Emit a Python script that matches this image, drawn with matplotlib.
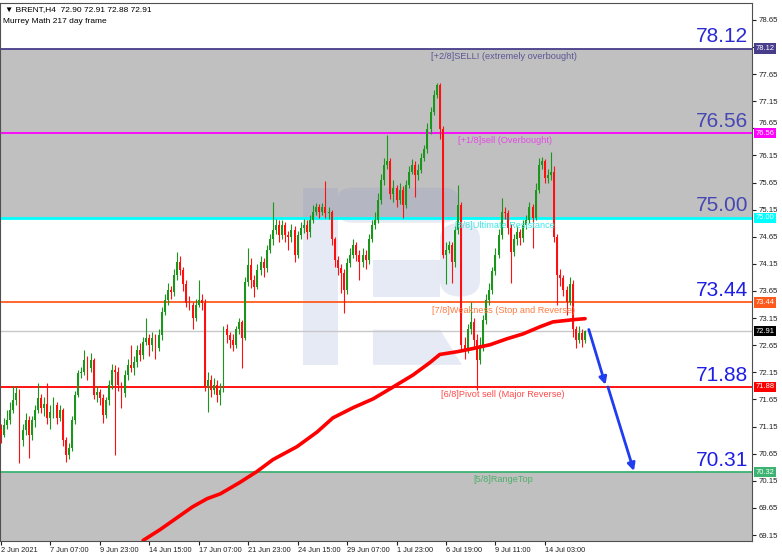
import numpy as np
import matplotlib
matplotlib.use("Agg")
import matplotlib.pyplot as plt
import matplotlib.transforms as mtransforms
from matplotlib.patches import Polygon, FancyBboxPatch

plt.rcParams['font.family'] = ['Liberation Sans', 'DejaVu Sans']

# %% data (H4 bars, bar index 0 = 2 Jun 2021)
first_open = 71.10
closes = [71.00, 71.18, 71.27, 71.46, 71.64, 71.77, 70.91, 71.09, 71.27, 71.00,
          71.27, 71.46, 71.68, 71.50, 71.57, 71.31, 71.42, 71.55, 71.31, 71.46,
          70.91, 70.63, 70.76, 71.27, 71.74, 72.14, 72.16, 72.38, 72.23, 72.38,
          71.74, 71.79, 71.68, 71.37, 71.64, 71.92, 72.20, 72.16, 71.92, 71.77,
          72.10, 72.29, 72.23, 72.34, 72.57, 72.47, 72.71, 72.79, 72.66, 72.79,
          72.60, 72.84, 73.27, 73.49, 73.67, 73.64, 73.95, 74.19, 74.04, 73.77,
          73.43, 73.40, 73.16, 73.40, 73.49, 73.43, 71.88, 72.01, 71.83, 71.92,
          71.74, 71.83, 72.94, 72.84, 72.75, 72.66, 72.94, 73.08, 72.79, 73.82,
          74.13, 73.86, 73.73, 74.04, 74.19, 74.08, 74.41, 74.60, 74.78, 74.87,
          74.69, 74.87, 74.69, 74.65, 74.78, 74.32, 74.69, 74.82, 74.87, 74.74,
          74.96, 75.11, 75.19, 75.11, 75.19, 75.09, 75.11, 74.60, 74.23, 74.08,
          73.99, 73.67, 74.17, 74.32, 74.50, 74.32, 74.19, 74.32, 74.23, 74.60,
          74.87, 74.96, 75.33, 75.70, 75.98, 76.04, 75.43, 75.55, 75.33, 75.52,
          75.24, 75.61, 75.85, 75.98, 75.79, 75.89, 76.11, 76.26, 76.63, 76.96,
          77.27, 77.44, 76.63, 74.32, 74.41, 74.50, 74.19, 74.78, 75.24, 72.66,
          72.57, 72.94, 73.08, 72.75, 72.38, 72.66, 73.12, 73.49, 73.67, 74.01,
          74.32, 74.69, 75.11, 75.09, 74.82, 74.37, 74.60, 74.74, 74.63, 74.87,
          74.96, 75.19, 75.00, 75.52, 75.98, 76.04, 75.74, 75.79, 75.85, 74.65,
          73.95, 73.89, 73.67, 73.45, 73.77, 72.94, 72.75, 72.88, 72.75, 72.91]
highs = [71.20, 71.30, 71.45, 71.60, 71.90, 71.90, 71.85, 71.20, 71.40, 71.35,
         71.35, 71.55, 71.95, 71.75, 71.70, 71.95, 71.55, 71.70, 71.60, 71.55,
         71.50, 70.95, 70.85, 71.35, 71.80, 72.20, 72.25, 72.57, 72.45, 72.50,
         72.42, 71.90, 71.85, 71.75, 71.70, 72.00, 72.30, 72.28, 72.25, 71.98,
         72.20, 72.40, 72.66, 72.45, 72.65, 72.70, 72.80, 73.16, 72.85, 72.90,
         72.85, 72.95, 73.35, 73.60, 73.80, 73.75, 74.05, 74.36, 74.30, 74.10,
         73.85, 73.55, 73.45, 73.50, 73.86, 73.60, 73.50, 72.15, 72.10, 72.05,
         72.00, 71.95, 73.00, 73.05, 72.90, 72.85, 73.00, 73.15, 73.12, 73.90,
         74.45, 74.25, 73.95, 74.15, 74.30, 74.25, 74.50, 74.70, 75.29, 74.98,
         74.95, 74.95, 74.92, 74.75, 74.88, 74.85, 74.75, 74.92, 74.98, 74.95,
         75.05, 75.24, 75.28, 75.25, 75.28, 75.67, 75.20, 75.15, 74.65, 74.30,
         74.15, 74.05, 74.25, 74.45, 74.60, 74.55, 74.40, 74.45, 74.40, 74.70,
         74.95, 75.10, 75.45, 75.80, 76.10, 76.53, 76.10, 75.70, 75.60, 75.65,
         75.58, 75.70, 75.95, 76.08, 76.05, 76.00, 76.20, 76.35, 76.75, 77.05,
         77.35, 77.48, 77.48, 76.70, 74.55, 74.58, 74.55, 74.85, 75.61, 75.30,
         72.80, 73.05, 73.45, 73.15, 72.85, 72.80, 73.20, 73.60, 73.80, 74.10,
         74.45, 74.80, 75.37, 75.20, 75.15, 74.88, 74.70, 74.85, 74.80, 74.95,
         75.05, 75.30, 75.25, 75.65, 76.10, 76.12, 76.08, 75.90, 76.22, 75.95,
         74.70, 74.05, 73.95, 73.75, 73.90, 73.85, 73.00, 73.00, 72.95, 72.93]
lows = [70.85, 70.95, 71.10, 71.20, 71.40, 71.55, 70.48, 70.80, 71.00, 70.57,
        70.90, 71.15, 71.40, 71.40, 71.35, 71.20, 71.10, 71.30, 71.20, 71.25,
        70.80, 70.50, 70.55, 70.70, 71.20, 71.70, 72.05, 72.10, 72.00, 72.15,
        71.65, 71.60, 71.55, 71.22, 71.30, 71.55, 71.85, 70.63, 71.80, 71.50,
        71.70, 72.00, 72.15, 72.10, 72.25, 72.35, 72.40, 72.65, 72.45, 72.55,
        72.40, 72.55, 72.75, 73.20, 73.40, 73.50, 73.55, 73.85, 73.95, 73.65,
        73.35, 73.30, 72.94, 73.10, 73.35, 73.30, 71.80, 71.42, 71.70, 71.75,
        71.60, 71.55, 71.78, 72.70, 72.60, 72.55, 72.60, 72.85, 72.23, 72.75,
        73.75, 73.70, 73.54, 73.68, 73.95, 73.90, 74.00, 74.35, 74.50, 74.70,
        74.55, 74.60, 74.55, 74.41, 74.55, 74.19, 74.25, 74.60, 74.72, 74.60,
        74.65, 74.90, 75.05, 75.00, 75.05, 75.00, 74.98, 74.50, 74.10, 73.95,
        73.62, 73.25, 73.60, 74.10, 74.25, 74.20, 73.86, 74.10, 74.05, 74.15,
        74.55, 74.80, 74.90, 75.25, 75.60, 75.90, 75.35, 75.30, 75.20, 75.25,
        75.00, 75.18, 75.55, 75.80, 75.39, 75.70, 75.82, 76.05, 76.20, 76.55,
        76.90, 77.20, 76.45, 74.25, 73.77, 74.35, 73.80, 74.10, 74.70, 72.55,
        72.40, 72.50, 72.85, 72.60, 71.83, 72.30, 72.55, 73.05, 73.40, 73.60,
        73.95, 74.25, 74.60, 74.98, 74.70, 73.80, 74.30, 74.50, 74.50, 74.55,
        74.80, 74.90, 74.45, 74.95, 75.45, 75.90, 75.65, 75.65, 75.70, 74.55,
        73.40, 73.75, 73.55, 73.20, 73.40, 72.80, 72.60, 72.70, 72.62, 72.70]

# 217 moving average, read at a handful of bars
ma_idx = [46, 51.5, 57, 62, 66.7, 71, 77.3, 82.8, 88, 95.8, 102.3, 107.4, 114,
          120.4, 126.9, 133.3, 138.8, 142, 147.6, 152.8, 158.3, 163.8, 169,
          174.4, 178.6, 185, 189]
ma_val = [69.05, 69.25, 69.47, 69.67, 69.82, 69.91, 70.12, 70.32, 70.54, 70.78,
          71.05, 71.31, 71.50, 71.66, 71.88, 72.10, 72.33, 72.48, 72.53, 72.59,
          72.66, 72.77, 72.86, 72.99, 73.08, 73.12, 73.14]

# Murrey Math levels
lvl_price = [78.12, 76.56, 75.00, 73.44, 71.88, 70.31]
lvl_tag = ['78.12', '76.56', '75.00', '73.44', '71.88', '70.32']
lvl_big = ['78.12', '76.56', '75.00', '73.44', '71.88', '70.31']
lvl_text = ['[+2/8]SELL! (extremely overbought)', '[+1/8]sell (Overbought)',
            '[8/8]Ultimate Resistance', '[7/8]Weakness (Stop and Reverse)',
            '[6/8]Pivot sell (Major Reverse)', '[5/8]RangeTop']
lvl_text_at = [139, 148, 147, 139.5, 142.4, 153]
lvl_color = ['#483d8b', '#ff00ff', '#00ffff', '#ff5a1e', '#ff0000', '#3cb371']
lvl_txtcol = ['#5c5696', '#e648e6', '#3fe6e6', '#ff7a40', '#ff4a4a', '#4caf6a']
lvl_bigcol = ['#2a2ad0', '#4646b4', '#4646b4', '#1e1ee6', '#1e1ee6', '#1e1ee6']

last_price = 72.91
forecast = [(190.2, 72.94), (195.6, 71.92), (196.4, 71.88), (204.8, 70.33)]

tick_idx = [0, 16, 32, 48, 64, 80, 96, 112, 128, 144, 160, 176]
tick_lbl = ['2 Jun 2021', '7 Jun 07:00', '9 Jun 23:00', '14 Jun 15:00',
            '17 Jun 07:00', '21 Jun 23:00', '24 Jun 15:00', '29 Jun 07:00',
            '1 Jul 23:00', '6 Jul 19:00', '9 Jul 11:00', '14 Jul 03:00']
yticks = [69.15, 69.65, 70.15, 70.65, 71.15, 71.65, 72.15, 72.65, 73.15, 73.65,
          74.15, 74.65, 75.15, 75.65, 76.15, 76.65, 77.15, 77.65, 78.15, 78.65]

# %% figure
fig = plt.figure(figsize=(7.82, 5.56), dpi=100)
ax = fig.add_axes([0.0, 0.027, 0.9616, 0.9685])
xmin, xmax = -0.3, 243.0
ymin, ymax = 69.04, 78.97
ax.set_xlim(xmin, xmax)
ax.set_ylim(ymin, ymax)

# gray zones
ax.axhspan(lvl_price[2], lvl_price[0], color='#c0c0c0', zorder=0, lw=0)
ax.axhspan(ymin, lvl_price[5], color='#c0c0c0', zorder=0, lw=0)

# watermark logo (axes fraction coords, converted from the screen picture)
def px(x, y):
    return (x / 752.0, (541.0 - y) / 538.0)

wm = dict(facecolor='#8596c8', alpha=0.2, lw=0, transform=ax.transAxes, zorder=1)
ax.add_patch(Polygon([px(303, 188), px(338, 188), px(338, 365), px(303, 365)], **wm))
ax.add_patch(FancyBboxPatch(px(338, 223), 120 / 752.0, 35 / 538.0,
                            boxstyle='round,pad=0,rounding_size=0.02', **wm))
ax.add_patch(FancyBboxPatch(px(440, 297), 40 / 752.0, 74 / 538.0,
                            boxstyle='round,pad=0,rounding_size=0.03', **wm))
ax.add_patch(Polygon([px(373, 260), px(440, 260), px(440, 297), px(373, 297)], **wm))
ax.add_patch(Polygon([px(373, 330), px(440, 330), px(462, 365), px(373, 365)], **wm))

# level lines
for p, c in zip(lvl_price, lvl_color):
    ax.axhline(p, color=c, lw=2.0 if c == '#00ffff' else 1.3, zorder=2)
ax.axhline(last_price, color='#c8c8c8', lw=1.0, zorder=2)

# candles
closes = np.array(closes)
opens = np.concatenate([[first_open], closes[:-1]])
highs = np.maximum(np.array(highs), np.maximum(opens, closes))
lows = np.minimum(np.array(lows), np.minimum(opens, closes))
idx = np.arange(len(closes))
up = closes >= opens
cols = np.where(up, '#1a961a', '#ff1010')
ax.vlines(idx, lows, highs, colors=cols, lw=0.8, zorder=3)
body = np.maximum(np.abs(closes - opens), 0.02)
ax.bar(idx, body, bottom=np.minimum(opens, closes), width=0.62, color=cols,
       lw=0, zorder=4)

# moving average
ax.plot(ma_idx, ma_val, color='#ff0000', lw=2.6, zorder=5, solid_capstyle='round')

# forecast arrows
for (x0, y0), (x1, y1) in [(forecast[0], forecast[1]), (forecast[2], forecast[3])]:
    ax.annotate('', xy=(x1, y1), xytext=(x0, y0),
                arrowprops=dict(arrowstyle='-|>', color='#1f3cf0', lw=2.0,
                                mutation_scale=11, shrinkA=0, shrinkB=0),
                zorder=6)

# level texts
for p, t, xa, c in zip(lvl_price, lvl_text, lvl_text_at, lvl_txtcol):
    ax.text(xa, p - 0.06, t, color=c, fontsize=6.6, ha='left', va='top', zorder=7)
for p, t, c in zip(lvl_price, lvl_big, lvl_bigcol):
    ax.text(0.9947, p + 0.045, t, color=c, fontsize=15, ha='right', va='bottom',
            transform=ax.get_yaxis_transform(), zorder=7)

# header
ax.text(0.006, 0.994, '\u25bc BRENT,H4  72.90 72.91 72.88 72.91', fontsize=6,
        ha='left', va='top', transform=ax.transAxes, color='black')
ax.text(0.004, 0.972, 'Murrey Math 217 day frame', fontsize=6,
        ha='left', va='top', transform=ax.transAxes, color='black')

# axes styling; labels hidden under a price tag are left blank, as on the chart
hidden = [78.15]
ax.yaxis.tick_right()
ax.set_yticks(yticks)
ax.set_yticklabels(['' if v in hidden else f'{v:.2f}' for v in yticks])
ax.tick_params(axis='y', labelsize=5.6, length=3, pad=2, colors='#202020')
# 76.65 peeks out just above the 76.56 tag
shift_up = mtransforms.ScaledTranslation(0, 4.5 / 72, fig.dpi_scale_trans)
for lab in ax.get_yticklabels(which='major'):
    if lab.get_text() == '76.65':
        lab.set_transform(lab.get_transform() + shift_up)
ax.set_xticks(tick_idx)
ax.set_xticklabels(tick_lbl, ha='left')
ax.tick_params(axis='x', labelsize=5.3, length=3, pad=1.5, colors='#202020')
for s in ax.spines.values():
    s.set_color('#505050')
    s.set_linewidth(0.8)

# price tags on the right scale
for p, t, c in zip(lvl_price + [last_price], lvl_tag + [f'{last_price:.2f}'],
                   lvl_color + ['black']):
    ax.text(1.0045, p, t, color='white', fontsize=5.4, ha='left', va='center',
            transform=ax.get_yaxis_transform(), clip_on=False, zorder=8,
            bbox=dict(boxstyle='square,pad=0.22', facecolor=c, edgecolor='none'))

fig.savefig('out.png', dpi=100)
